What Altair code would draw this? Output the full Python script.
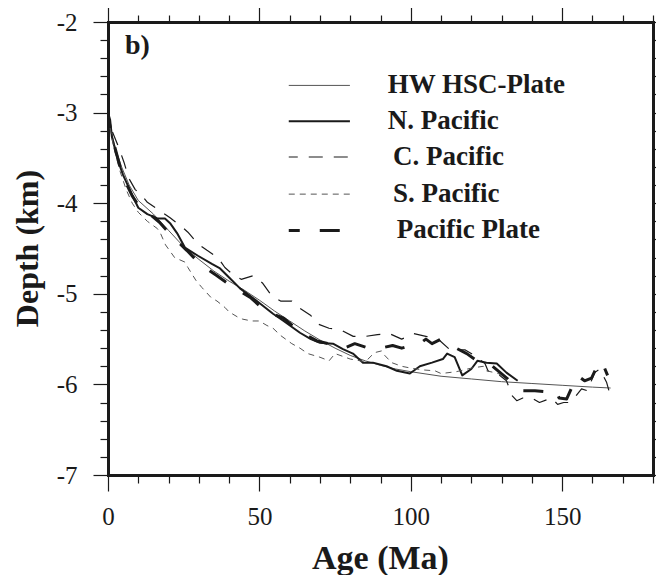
import altair as alt
import pandas as pd

# ---------------- data ----------------
series_names = ["HW HSC-Plate", "N. Pacific", "C. Pacific", "S. Pacific", "Pacific Plate"]

hw_age = [0, 1, 2.5, 4.5, 7, 10, 15, 20, 25, 30, 35, 40, 45, 50, 55, 60, 65, 70, 75, 80,
          85, 90, 95, 100, 110, 120, 130, 140, 150, 160, 166]
hw_depth = [-3.0, -3.2, -3.4, -3.6, -3.8, -3.97, -4.12, -4.3, -4.48, -4.62, -4.75, -4.86, -4.96,
            -5.07, -5.19, -5.3, -5.41, -5.51, -5.6, -5.68, -5.74, -5.79, -5.83, -5.86, -5.91,
            -5.94, -5.97, -5.99, -6.01, -6.03, -6.04]

np_age = [0, 0.7, 1.3, 3.3, 5, 8, 10, 13, 16.5, 18.8, 20.5, 22.8, 25.4, 29.7, 34.3, 37, 40, 43.6,
          48, 54.5, 58, 63.4, 67, 70, 74.3, 77.6, 80.9, 84.2, 87.5, 92, 95.4, 99.7, 103, 107,
          110.6, 112, 114.5, 117, 120, 122, 125, 128.4, 131.6, 135.3]
np_depth = [-3.0, -3.08, -3.27, -3.53, -3.69, -3.91, -4.05, -4.12, -4.17, -4.17, -4.22, -4.33,
            -4.49, -4.58, -4.67, -4.72, -4.82, -4.94, -5.05, -5.22, -5.3, -5.43, -5.5, -5.54,
            -5.55, -5.61, -5.66, -5.76, -5.76, -5.8, -5.85, -5.88, -5.8, -5.76, -5.72, -5.66,
            -5.7, -5.9, -5.83, -5.74, -5.76, -5.77, -5.87, -5.96]

cp_age = [0, 1.3, 3.5, 5.3, 6.8, 9, 11, 13, 17, 20.5, 24, 26.4, 29.7, 32.7, 36.3, 38.6, 41, 44,
          48, 51, 54, 57, 60.7, 63.4, 67, 69, 73, 77, 81, 85, 89, 93, 97, 101, 105, 109, 113,
          118, 121, 124.5, 125.5, 129, 131.6, 133.6, 135, 137, 140, 142.5, 146.5, 148.5, 150.5,
          152.5, 154, 156.4, 158.4, 160.7, 162.4, 164.7, 165.7]
cp_depth = [-3.0, -3.2, -3.38, -3.55, -3.72, -3.85, -3.91, -3.99, -4.08, -4.16, -4.25, -4.32,
            -4.45, -4.52, -4.6, -4.71, -4.78, -4.84, -4.8, -4.88, -5.02, -5.08, -5.08, -5.16,
            -5.24, -5.33, -5.38, -5.4, -5.47, -5.47, -5.45, -5.44, -5.5, -5.44, -5.47, -5.5,
            -5.62, -5.62, -5.68, -5.77, -5.85, -5.89, -5.96, -6.13, -6.18, -6.15, -6.15, -6.2,
            -6.15, -6.22, -6.2, -6.2, -6.15, -6.05, -6.07, -5.87, -5.83, -5.98, -6.1]

sp_age = [0, 2, 4, 6, 8, 10, 13, 16.3, 17.3, 19, 22, 25.4, 26.4, 29, 31, 34, 36, 38.6, 40, 43,
          44.5, 47.5, 50, 52.5, 54.5, 57, 60.7, 63.4, 66, 70, 73, 75, 80, 85, 88, 90.4, 91.4,
          93.7, 97, 100, 104, 108, 110, 115, 120, 124, 125, 129, 130.4]
sp_depth = [-3.05, -3.4, -3.65, -3.85, -4.0, -4.1, -4.2, -4.28, -4.33, -4.46, -4.6, -4.65,
            -4.71, -4.85, -4.93, -5.04, -5.08, -5.15, -5.2, -5.26, -5.28, -5.3, -5.3, -5.35,
            -5.38, -5.46, -5.55, -5.6, -5.66, -5.7, -5.74, -5.66, -5.72, -5.75, -5.65, -5.63,
            -5.68, -5.76, -5.8, -5.82, -5.84, -5.85, -5.88, -5.86, -5.82, -5.8, -5.85, -5.88,
            -5.94]

pp_age = [0, 2, 4, 6, 8, 10, 13, 17, 21, 26, 31, 36, 41, 47, 52, 58, 63, 69, 75, 78, 81.5, 86,
          90, 94, 97, 100, 103, 105, 107, 110, 112, 115, 118.5, 121, 123.4, 127, 132, 136, 141,
          144, 147.5, 149, 151.5, 155, 157.4, 159.7, 162.4, 164, 165]
pp_depth = [-3.05, -3.35, -3.6, -3.78, -3.92, -4.02, -4.1, -4.21, -4.36, -4.52, -4.69, -4.8,
            -4.92, -5.04, -5.19, -5.27, -5.41, -5.52, -5.57, -5.6, -5.55, -5.6, -5.6, -5.57,
            -5.6, -5.57, -5.55, -5.5, -5.55, -5.5, -5.54, -5.6, -5.66, -5.72, -5.77, -5.8,
            -5.94, -6.07, -6.07, -6.08, -6.05, -6.15, -6.16, -5.9, -5.96, -5.93, -5.74, -5.82,
            -5.9]

series_ages = [hw_age, np_age, cp_age, sp_age, pp_age]
series_depths = [hw_depth, np_depth, cp_depth, sp_depth, pp_depth]

x_ticks = list(range(0, 181, 10))
y_ticks = [round(-7 + 0.2 * i, 1) for i in range(26)]

# legend anchor positions (data units) and label positions
legend_x1 = [59.7] * 5
legend_x2 = [79.9] * 5
legend_y = [-2.70, -3.095, -3.49, -3.90, -4.30]
legend_label_x = [92.4, 92.4, 94.1, 94.1, 95.4]

panel_label = ["b)"]
panel_label_x = [5.6]
panel_label_y = [-2.26]

# ---------------- styles ----------------
styles = [
    dict(color="#555555", strokeWidth=1.0),
    dict(color="#1a1a1a", strokeWidth=2.0),
    dict(color="#1a1a1a", strokeWidth=1.2, strokeDash=[14, 11], strokeDashOffset=5),
    dict(color="#555555", strokeWidth=1.0, strokeDash=[6, 5]),
    dict(color="#1a1a1a", strokeWidth=3.0, strokeDash=[20, 20], strokeDashOffset=9),
]

FONT = "Liberation Serif"
x_scale = alt.Scale(domain=[0, 180], nice=False, zero=False)
y_scale = alt.Scale(domain=[-7, -2], nice=False, zero=False)

maj_x = "datum.value % 50 === 0"
maj_y = "abs(datum.value - round(datum.value)) < 0.001"

common_axis = dict(
    grid=False, domainColor="#1a1a1a", domainWidth=3, domainCap="square",
    tickColor="#1a1a1a", tickWidth=1.2,
    labelFont=FONT, labelFontSize=25, labelColor="#1a1a1a",
    titleFont=FONT, titleFontWeight="bold", titleColor="#1a1a1a",
)

x_bottom = alt.Axis(orient="bottom", values=x_ticks,
                    tickSize={"condition": {"test": maj_x, "value": 16}, "value": 8},
                    labelExpr=f"{maj_x} ? datum.label : ''", labelPadding=25,
                    labelBaseline="middle", labelFlush=False, labelOverlap=False,
                    title="Age (Ma)", titleFontSize=34, titleX=272, titleY=83,
                    titleBaseline="middle", titleAlign="center", **common_axis)
y_left = alt.Axis(orient="left", values=y_ticks,
                  tickSize={"condition": {"test": maj_y, "value": 15}, "value": 8},
                  labelExpr=f"{maj_y} ? '-' + format(abs(datum.value), 'd') : ''",
                  labelPadding=16, labelFlush=False, labelOverlap=False,
                  title="Depth (km)", titleFontSize=32, titleX=-81, titleY=226,
                  titleAngle=270, titleBaseline="middle", titleAlign="center", **common_axis)
x_top = alt.Axis(orient="top", values=x_ticks, labels=False, title=None,
                 tickSize={"condition": {"test": maj_x, "value": 15}, "value": 7},
                 **common_axis)
y_right = alt.Axis(orient="right", values=y_ticks, labels=False, title=None,
                   tickSize={"condition": {"test": maj_y, "value": 10}, "value": 6},
                   **common_axis)

layers = []
for i, name in enumerate(series_names):
    df = pd.DataFrame({"age": series_ages[i], "depth": series_depths[i],
                       "order": range(len(series_ages[i]))})
    st = styles[i]
    if i == 0:
        xa, ya = x_bottom, y_left
    elif i == 1:
        xa, ya = x_top, y_right
    else:
        xa, ya = None, None
    line = alt.Chart(df).mark_line(strokeCap="butt", strokeJoin="round", clip=True, **st).encode(
        x=alt.X("age:Q", scale=x_scale, axis=xa),
        y=alt.Y("depth:Q", scale=y_scale, axis=ya),
        order="order:Q",
    )
    layers.append(line)

# legend lines
for i, name in enumerate(series_names):
    ldf = pd.DataFrame({"x1": [legend_x1[i]], "x2": [legend_x2[i]], "y": [legend_y[i]]})
    rule = alt.Chart(ldf).mark_rule(strokeCap="butt", **styles[i]).encode(
        x=alt.X("x1:Q", scale=x_scale, axis=None),
        x2="x2:Q",
        y=alt.Y("y:Q", scale=y_scale, axis=None),
    )
    layers.append(rule)

label_df = pd.DataFrame({"name": series_names, "x": legend_label_x, "y": legend_y})
labels = alt.Chart(label_df).mark_text(
    align="left", baseline="middle", font=FONT, fontSize=27, fontWeight="bold", color="#1a1a1a"
).encode(
    x=alt.X("x:Q", scale=x_scale, axis=None),
    y=alt.Y("y:Q", scale=y_scale, axis=None),
    text="name:N",
)
layers.append(labels)

pl_df = pd.DataFrame({"t": panel_label, "x": panel_label_x, "y": panel_label_y})
panel = alt.Chart(pl_df).mark_text(
    align="left", baseline="middle", font=FONT, fontSize=28, fontWeight="bold", color="#1a1a1a"
).encode(
    x=alt.X("x:Q", scale=x_scale, axis=None),
    y=alt.Y("y:Q", scale=y_scale, axis=None),
    text="t:N",
)
layers.append(panel)

chart = alt.layer(*layers).properties(
    width=545, height=453,
    autosize=alt.AutoSizeParams(type="none"),
    padding={"left": 100, "top": 14, "right": 3, "bottom": 100},
    background="white",
).configure_view(stroke=None)

chart.save("out.html", embed_options={"renderer": "svg", "actions": False})
